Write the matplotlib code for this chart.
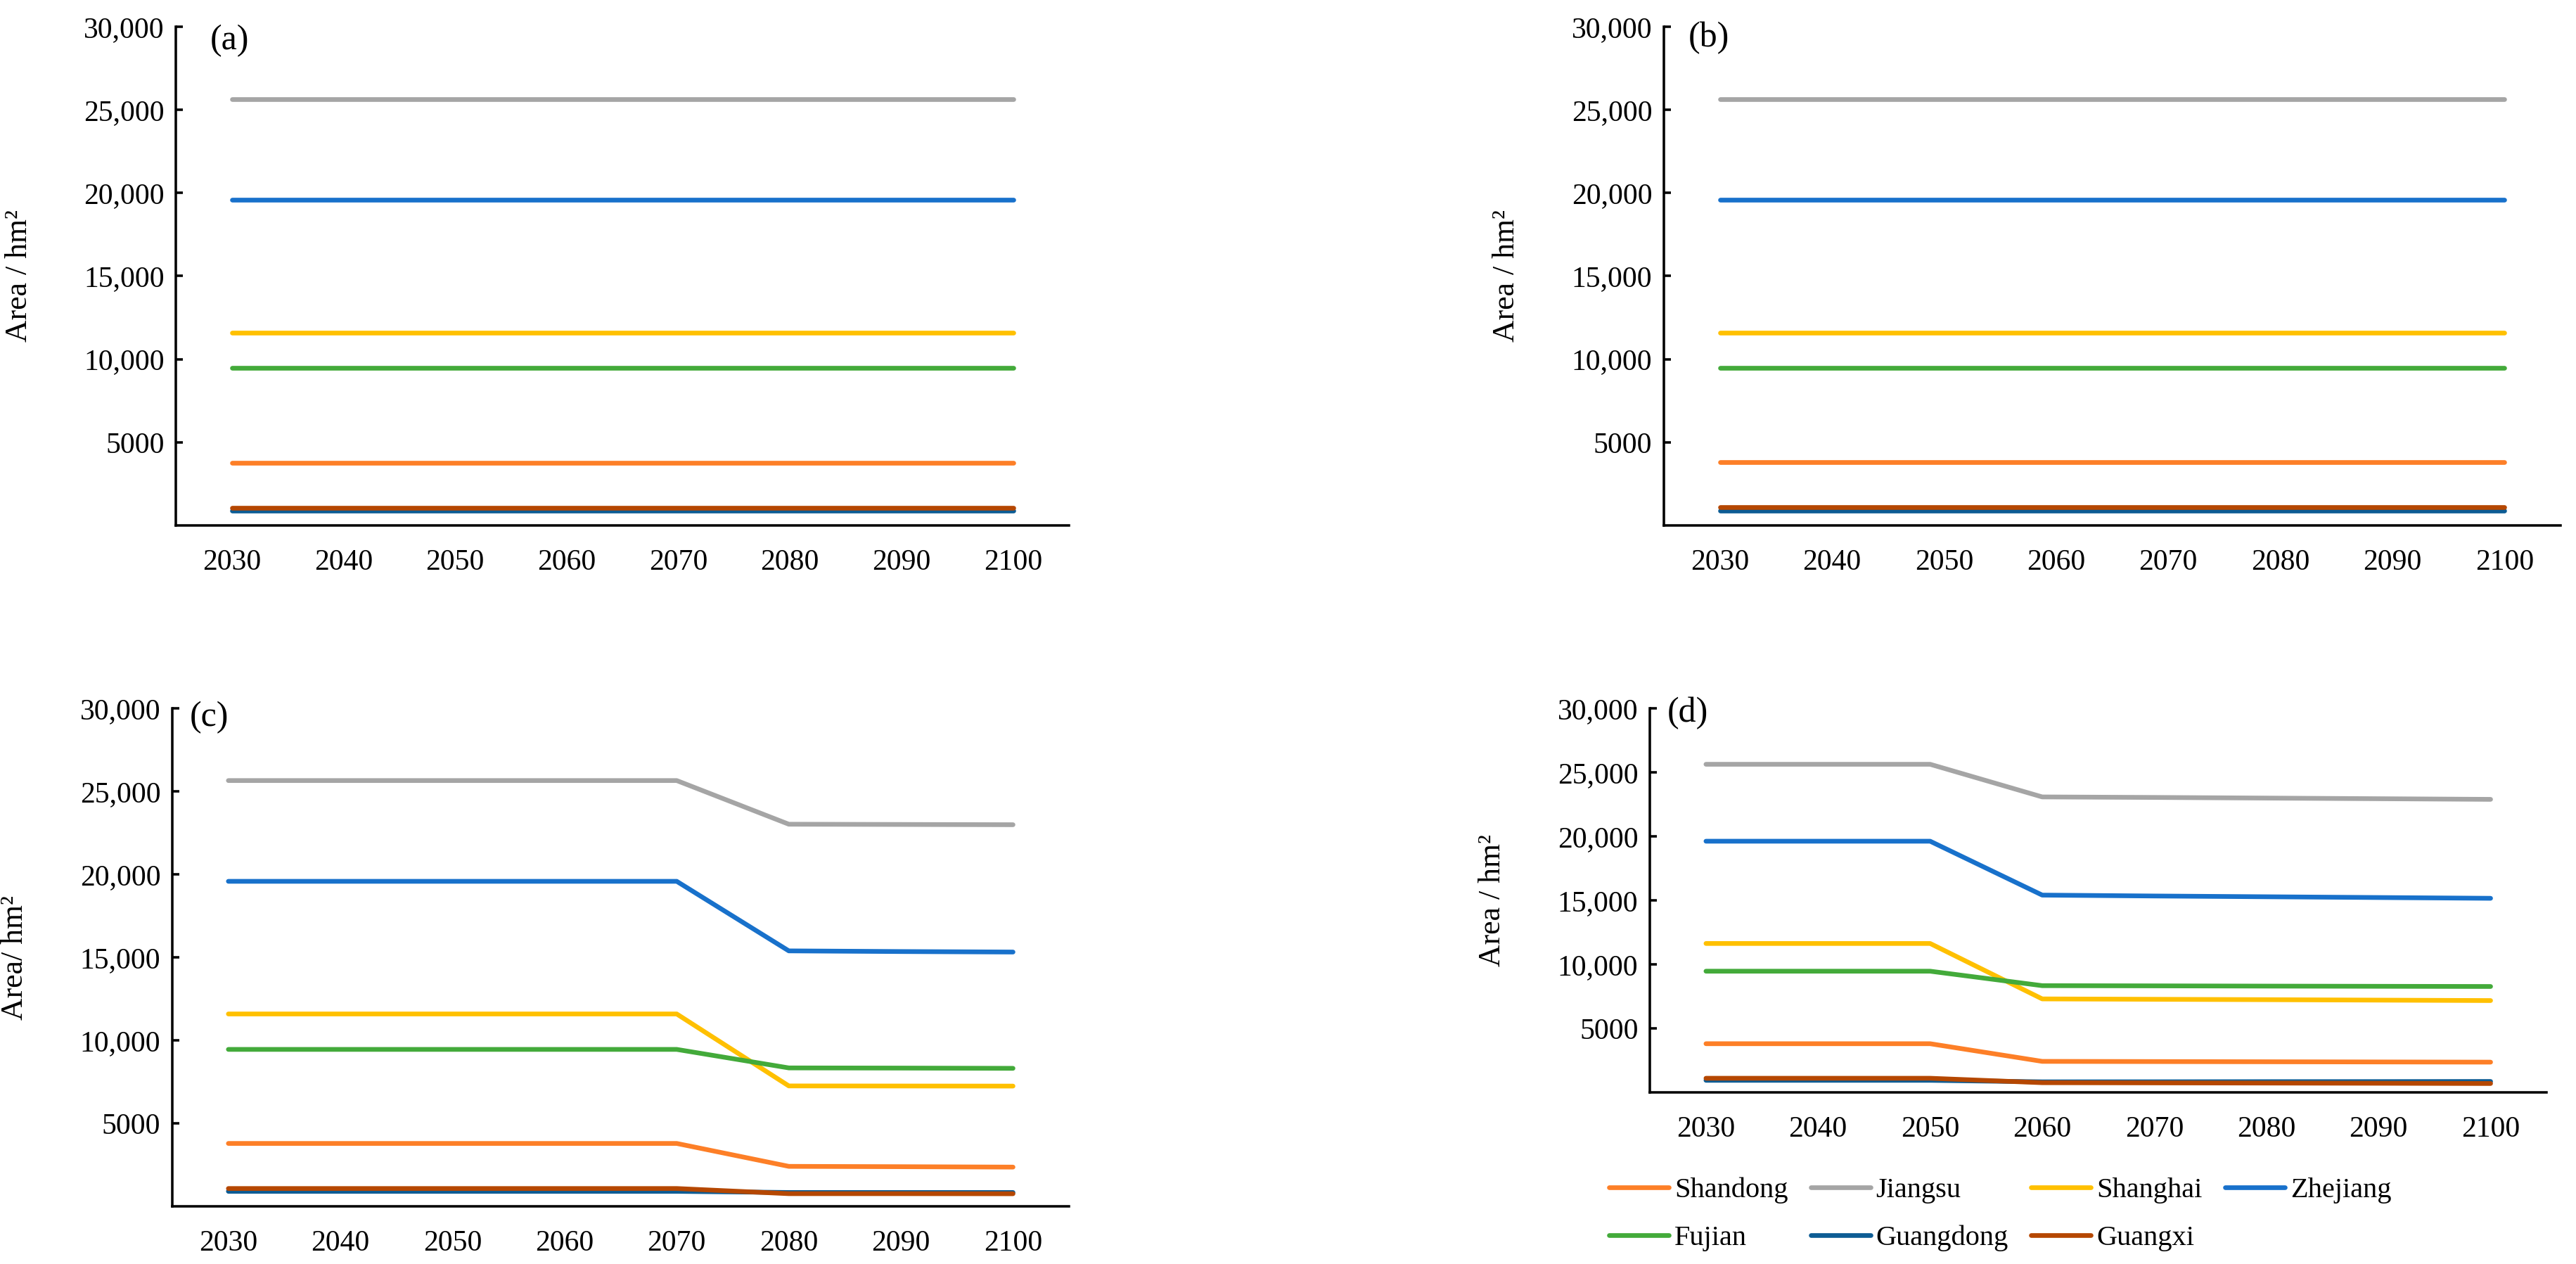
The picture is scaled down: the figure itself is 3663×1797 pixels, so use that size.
import numpy as np
import matplotlib
matplotlib.use("Agg")
import matplotlib.pyplot as plt

plt.rcParams['font.family'] = ['Liberation Serif', 'DejaVu Serif']

years = ['2030', '2040', '2050', '2060', '2070', '2080', '2090', '2100']
provinces = ['Shandong', 'Jiangsu', 'Shanghai', 'Zhejiang', 'Fujian', 'Guangdong', 'Guangxi']
colors = ['#FD7F27', '#A5A5A5', '#FFC000', '#1871CB', '#43AA3A', '#0D5C94', '#B54700']

# panel (a)
a_shandong = [3780] * 8
a_jiangsu = [25640] * 8
a_shanghai = [11610] * 8
a_zhejiang = [19600] * 8
a_fujian = [9470] * 8
a_guangdong = [900] * 8
a_guangxi = [1070] * 8

# panel (b)
b_shandong = [3790] * 8
b_jiangsu = [25620] * 8
b_shanghai = [11610] * 8
b_zhejiang = [19590] * 8
b_fujian = [9470] * 8
b_guangdong = [910] * 8
b_guangxi = [1080] * 8

# panel (c)
c_shandong = [3790, 3790, 3790, 3790, 3790, 2410, 2390, 2365]
c_jiangsu = [25650, 25650, 25650, 25650, 25650, 23020, 23005, 22990]
c_shanghai = [11590, 11590, 11590, 11590, 11590, 7255, 7250, 7245]
c_zhejiang = [19580, 19580, 19580, 19580, 19580, 15390, 15350, 15320]
c_fujian = [9455, 9455, 9455, 9455, 9455, 8340, 8330, 8315]
c_guangdong = [905, 905, 905, 905, 905, 835, 835, 835]
c_guangxi = [1075, 1075, 1075, 1075, 1075, 765, 765, 760]

# panel (d)
d_shandong = [3800, 3800, 3800, 2420, 2405, 2390, 2375, 2360]
d_jiangsu = [25630, 25630, 25630, 23080, 23040, 22990, 22940, 22890]
d_shanghai = [11630, 11630, 11630, 7300, 7270, 7240, 7205, 7170]
d_zhejiang = [19620, 19620, 19620, 15410, 15340, 15280, 15220, 15160]
d_fujian = [9465, 9465, 9465, 8335, 8320, 8300, 8285, 8270]
d_guangdong = [940, 940, 940, 820, 825, 835, 840, 850]
d_guangxi = [1100, 1100, 1100, 755, 740, 725, 710, 690]

yticks = [5000, 10000, 15000, 20000, 25000, 30000]
ytick_labels = ['5000', '10,000', '15,000', '20,000', '25,000', '30,000']

panels = [
    ('(a)', 'Area / hm²', [a_shandong, a_jiangsu, a_shanghai, a_zhejiang, a_fujian, a_guangdong, a_guangxi],
     [0.0683, 0.5843, 0.3467, 0.3946], (0.0386, 0.972)),
    ('(b)', 'Area / hm²', [b_shandong, b_jiangsu, b_shanghai, b_zhejiang, b_fujian, b_guangdong, b_guangxi],
     [0.6459, 0.5843, 0.3481, 0.3946], (0.0275, 0.977)),
    ('(c)', 'Area/ hm²', [c_shandong, c_jiangsu, c_shanghai, c_zhejiang, c_fujian, c_guangdong, c_guangxi],
     [0.0669, 0.0456, 0.3481, 0.3940], (0.0196, 0.982)),
    ('(d)', 'Area / hm²', [d_shandong, d_jiangsu, d_shanghai, d_zhejiang, d_fujian, d_guangdong, d_guangxi],
     [0.6405, 0.1358, 0.3481, 0.3038], (0.019, 0.987)),
]

fig = plt.figure(figsize=(3663 / 300, 1797 / 300), dpi=300)
x = np.arange(len(years))
handles = []
for tag, ylab, series, rect, tagpos in panels:
    ax = fig.add_axes(rect)
    lines = []
    for vals, name, col in zip(series, provinces, colors):
        ln, = ax.plot(x, vals, color=col, lw=1.6, solid_capstyle='round', label=name)
        lines.append(ln)
    handles = lines
    ax.set_xlim(-0.5, len(years) - 0.5)
    ax.set_ylim(0, 30000)
    ax.set_xticks(x)
    ax.set_xticklabels(years)
    ax.set_yticks(yticks)
    ax.set_yticklabels(ytick_labels)
    ax.spines['top'].set_visible(False)
    ax.spines['right'].set_visible(False)
    ax.spines['left'].set_linewidth(0.85)
    ax.spines['bottom'].set_linewidth(0.85)
    ax.tick_params(axis='y', direction='in', length=2.4, width=0.85, pad=4, labelsize=10)
    ax.tick_params(axis='x', length=0, pad=8, labelsize=10)
    ax.set_ylabel(ylab, fontsize=10.5)
    ax.yaxis.set_label_coords(-0.16, 0.5)
    ax.text(tagpos[0], tagpos[1], tag, transform=ax.transAxes, fontsize=12, ha='left', va='center')

# legend under panel (d), row-wise order
order = [0, 4, 1, 5, 2, 6, 3]
fig.legend([handles[i] for i in order], [provinces[i] for i in order],
           loc='upper left', bbox_to_anchor=(0.6246, 0.0685), ncol=4, frameon=False,
           fontsize=9.7, handlelength=2.1, handletextpad=0.2, columnspacing=0.8,
           labelspacing=0.75, borderpad=0, borderaxespad=0)

fig.savefig('out.png', dpi=300)
